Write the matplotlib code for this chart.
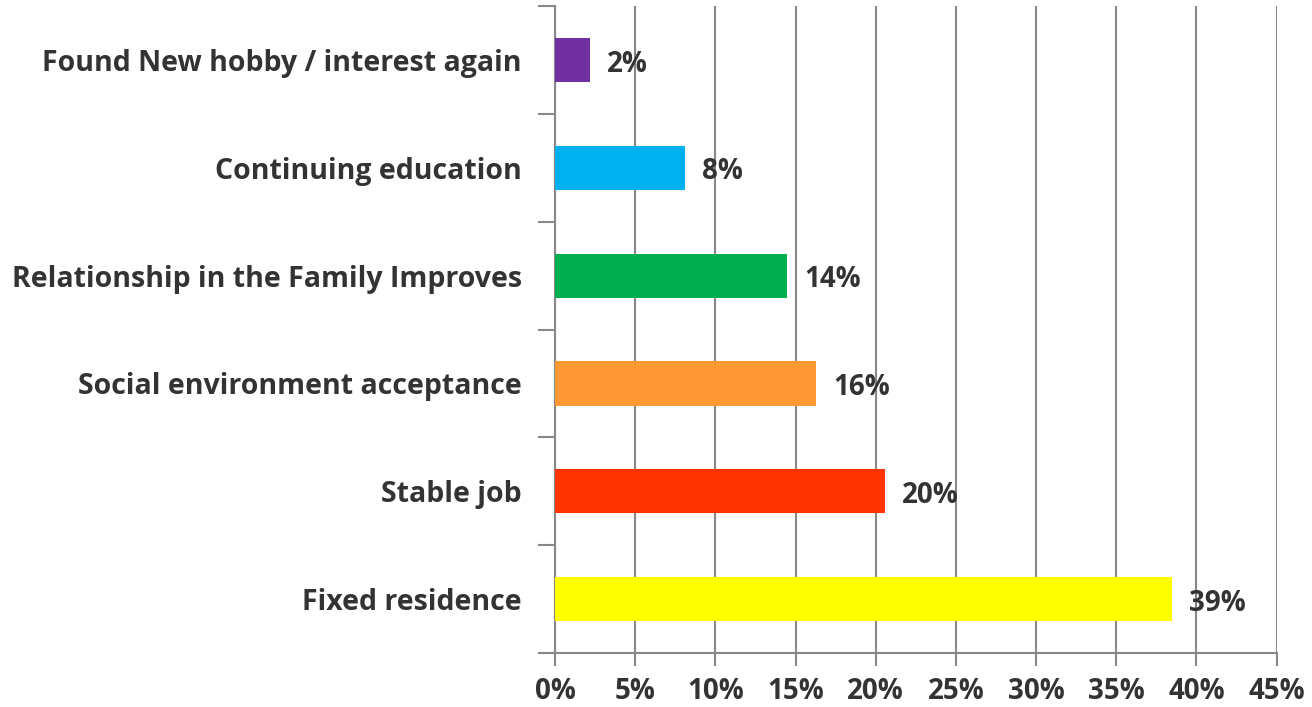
import matplotlib.pyplot as plt
from matplotlib.ticker import FuncFormatter

# data (bottom to top)
categories = ['Fixed residence', 'Stable job', 'Social environment acceptance',
              'Relationship in the Family Improves', 'Continuing education',
              'Found New hobby / interest again']
values = [38.5, 20.6, 16.3, 14.5, 8.1, 2.2]
labels = ['39%', '20%', '16%', '14%', '8%', '2%']
colors = ['#FFFF00', '#FF3300', '#FF9933', '#00B050', '#00B0F0', '#7030A0']
xticks = [0, 5, 10, 15, 20, 25, 30, 35, 40, 45]

text_color = '#333333'
grid_color = '#888888'

plt.rcParams['font.family'] = ['Open Sans', 'DejaVu Sans']
plt.rcParams['font.weight'] = 'bold'

fig = plt.figure(figsize=(13.12, 7.07), dpi=100)
ax = fig.add_axes([0.423, 0.0764, 0.55, 0.915])

ypos = range(len(categories))
ax.barh(ypos, values, height=0.41, color=colors, zorder=3)

for y, v, lab in zip(ypos, values, labels):
    ax.annotate(lab, (v, y), xytext=(12, -3), textcoords='offset points',
                ha='left', va='center', fontsize=20, fontweight='bold',
                color=text_color, zorder=4)

ax.set_xlim(0, 45)
ax.set_ylim(-0.5, len(categories) - 0.5)
ax.set_xticks(xticks)
ax.xaxis.set_major_formatter(FuncFormatter(lambda x, p: f'{x:.0f}%'))

# category labels, tick marks between categories (excel style)
ax.set_yticks(list(ypos))
ax.set_yticklabels(categories)
ax.set_yticks([i - 0.5 for i in range(len(categories) + 1)], minor=True)
ax.tick_params(axis='y', which='major', length=0, pad=24, labelsize=20.5,
               labelcolor=text_color)
ax.tick_params(axis='y', which='minor', length=12, width=1.5, color=grid_color)
ax.tick_params(axis='x', length=9, width=1.5, color=grid_color, pad=8,
               labelsize=20, labelcolor=text_color)

ax.grid(axis='x', color=grid_color, linewidth=1.5, zorder=0)
for s in ['top', 'right']:
    ax.spines[s].set_visible(False)
for s in ['left', 'bottom']:
    ax.spines[s].set_color(grid_color)
    ax.spines[s].set_linewidth(1.5)

plt.savefig('out.png', dpi=100)
